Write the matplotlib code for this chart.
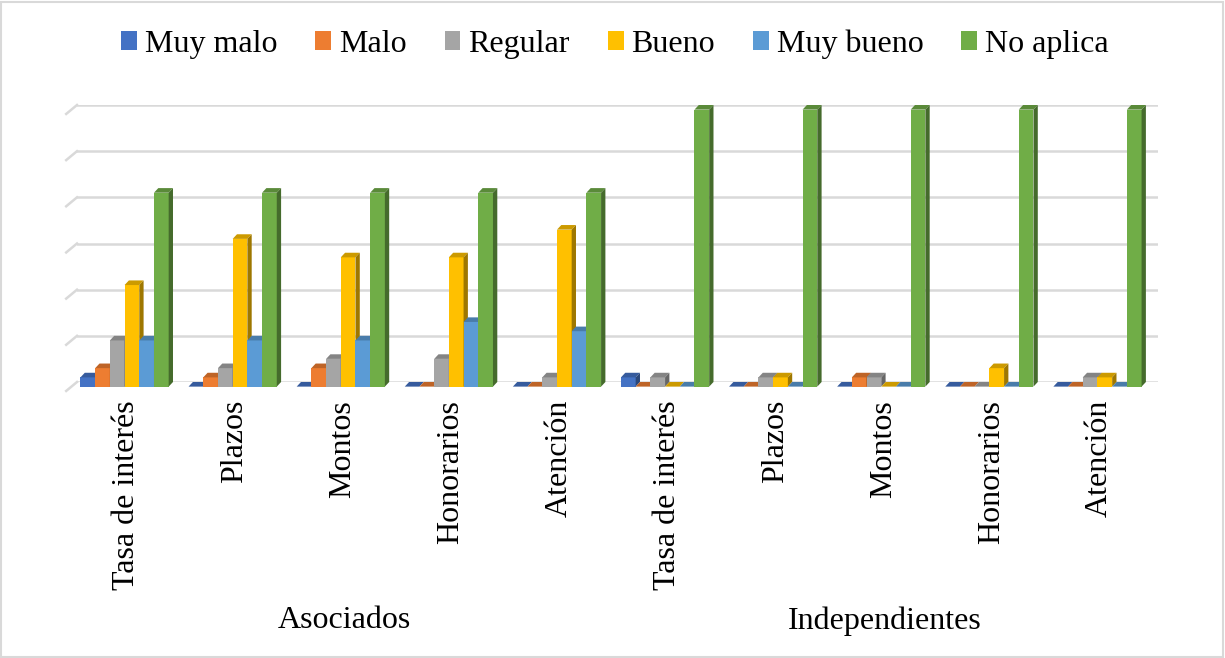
"""
Clustered 3D-style column chart: valoracion de asociados e independientes
"""

import matplotlib.pyplot as plt
import matplotlib.colors as mcolors
from matplotlib.patches import Patch, Polygon, Rectangle
import numpy as np

plt.rcParams["font.family"] = ["Liberation Serif", "DejaVu Serif"]

categories = ["Tasa de interés", "Plazos", "Montos", "Honorarios", "Atención",
              "Tasa de interés", "Plazos", "Montos", "Honorarios", "Atención"]
groups = ["Asociados", "Independientes"]
series = ["Muy malo", "Malo", "Regular", "Bueno", "Muy bueno", "No aplica"]

muy_malo = [1, 0, 0, 0, 0, 1, 0, 0, 0, 0]
malo = [2, 1, 2, 0, 0, 0, 0, 1, 0, 0]
regular = [5, 2, 3, 3, 1, 1, 1, 1, 0, 1]
bueno = [11, 16, 14, 14, 17, 0, 1, 0, 2, 1]
muy_bueno = [5, 5, 5, 7, 6, 0, 0, 0, 0, 0]
no_aplica = [21, 21, 21, 21, 21, 30, 30, 30, 30, 30]

values = [muy_malo, malo, regular, bueno, muy_bueno, no_aplica]
colors = ["#4472C4", "#ED7D31", "#A5A5A5", "#FFC000", "#5B9BD5", "#70AD47"]


def shade(c, f):
    r, g, b = mcolors.to_rgb(c)
    return (r * f, g * f, b * f)


fig = plt.figure(figsize=(12.25, 6.58), dpi=100)
ax = fig.add_axes([77 / 1225, 276 / 658, 1081 / 1225, 277 / 658])

x = np.arange(len(categories))
w = 0.136
dx = 0.04   # depth shift (x, data units)
dy = 0.5    # depth shift (y, data units)

ax.set_xlim(-0.5, len(categories) - 0.5)
ax.set_ylim(0, 30)
ax.set_yticks(np.arange(0, 31, 5))
ax.set_yticklabels([])
ax.yaxis.grid(True, color="#d9d9d9", linewidth=1.8)
ax.set_axisbelow(True)
ax.tick_params(axis="y", length=0)
ax.tick_params(axis="x", length=0, pad=13)
for s in ax.spines.values():
    s.set_visible(False)

# floor perspective stubs at the left end of each gridline
for yv in np.arange(0, 31, 5):
    ax.plot([-0.5, -0.6], [yv, yv - 0.97], color="#d9d9d9", lw=1.8,
            clip_on=False, zorder=0)

for i, (vals, c) in enumerate(zip(values, colors)):
    off = (i - 2.5) * w - 0.02
    for j, v in enumerate(vals):
        xl = x[j] + off - w / 2
        ax.add_patch(Rectangle((xl - dx, -dy), w, v, facecolor=c,
                               edgecolor="none", clip_on=False, zorder=3))
        ax.add_patch(Polygon([(xl - dx, v - dy), (xl - dx + w, v - dy),
                              (xl + w, v), (xl, v)],
                             facecolor=shade(c, 0.8), edgecolor="none",
                             clip_on=False, zorder=3))
        ax.add_patch(Polygon([(xl - dx + w, -dy), (xl + w, 0),
                              (xl + w, v), (xl - dx + w, v - dy)],
                             facecolor=shade(c, 0.62), edgecolor="none",
                             clip_on=False, zorder=3))

ax.set_xticks(x - dx / 2 - 0.02)
ax.set_xticklabels(categories, rotation=90, va="top", ha="center", fontsize=23)

# group labels
for k, g in enumerate(groups):
    gx = ax.transData.transform((2 + 5 * k - 0.03, 0))[0] / fig.bbox.width
    fig.text(gx, 1 - 621 / 658, g, ha="center", va="center", fontsize=23)

handles = [Patch(facecolor=c, edgecolor="none") for c in colors]
fig.legend(handles, series, loc="center", bbox_to_anchor=(0.502, 1 - 44 / 658),
           ncol=6, frameon=False, fontsize=23, handlelength=0.5,
           handleheight=0.5, handletextpad=0.25, columnspacing=1.18)

fig.add_artist(Rectangle((1 / 1225, 1 / 658), 1 - 3 / 1225, 1 - 3 / 658,
                         transform=fig.transFigure, fill=False,
                         edgecolor="#d9d9d9", linewidth=1.5))

fig.savefig("out.png", dpi=100)
